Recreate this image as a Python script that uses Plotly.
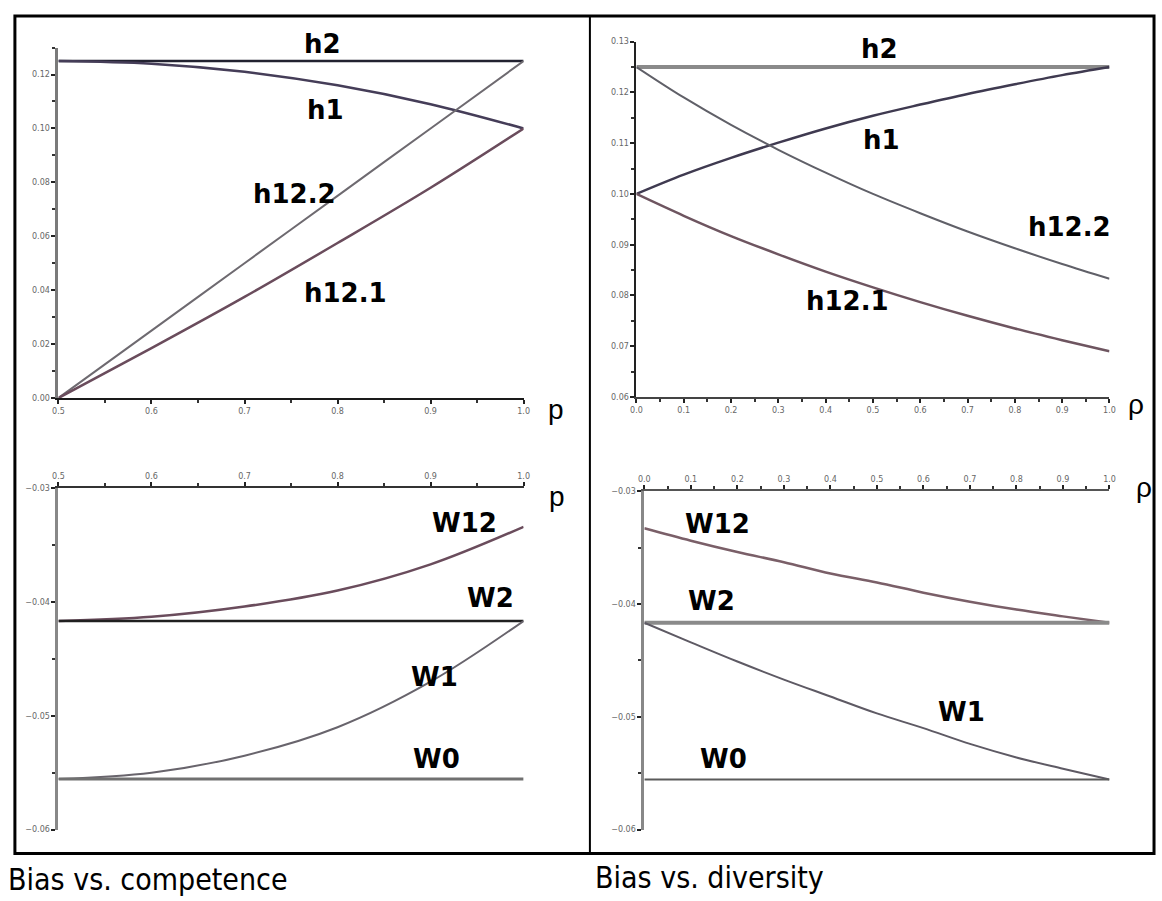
import plotly.graph_objects as go

W, H = 1162, 901

# ---------------- data ----------------
p_vals = [0.5, 0.6, 0.7, 0.8, 0.9, 1.0]
comp_h2 = [0.125, 0.125, 0.125, 0.125, 0.125, 0.125]
comp_h1 = [0.125, 0.124, 0.121, 0.116, 0.109, 0.100]
comp_h12_2 = [0.000, 0.025, 0.050, 0.075, 0.100, 0.125]
comp_h12_1 = [0.000, 0.0185, 0.0375, 0.0575, 0.078, 0.100]

comp_W12 = [-0.04167, -0.0413, -0.0404, -0.0390, -0.0367, -0.0334]
comp_W2 = [-0.04167, -0.04167, -0.04167, -0.04167, -0.04167, -0.04167]
comp_W1 = [-0.05556, -0.0550, -0.0535, -0.0510, -0.0470, -0.04167]
comp_W0 = [-0.05556, -0.05556, -0.05556, -0.05556, -0.05556, -0.05556]

rho_vals = [0.0, 0.1, 0.2, 0.3, 0.4, 0.5, 0.6, 0.7, 0.8, 0.9, 1.0]
div_h2 = [0.125] * 11
div_h1 = [0.100, 0.1038, 0.1071, 0.1101, 0.1129, 0.1154, 0.1176, 0.1197, 0.1216, 0.1234, 0.125]
div_h12_2 = [0.125, 0.1190, 0.1136, 0.1087, 0.1042, 0.1000, 0.0962, 0.0926, 0.0893, 0.0862, 0.0833]
div_h12_1 = [0.100, 0.0957, 0.0917, 0.0881, 0.0847, 0.0816, 0.0787, 0.0760, 0.0735, 0.0712, 0.0690]

div_W12 = [-0.0333, -0.0344, -0.0354, -0.0363, -0.0373, -0.0381, -0.0390, -0.0398, -0.0405, -0.0411, -0.04167]
div_W2 = [-0.04167] * 11
div_W1 = [-0.04167, -0.0434, -0.0451, -0.0467, -0.0482, -0.0497, -0.0510, -0.0524, -0.0536, -0.0546, -0.05556]
div_W0 = [-0.05556] * 11

captions = ["Bias vs. competence", "Bias vs. diversity"]


def px(x):
    return x / W


def py(y):
    return 1 - y / H


fig = go.Figure()


def add(x, y, xa, ya, color, width=2):
    fig.add_trace(go.Scatter(x=x, y=y, xaxis=xa, yaxis=ya, mode="lines",
                             line=dict(color=color, width=width, shape="spline", smoothing=1.0),
                             showlegend=False, hoverinfo="skip"))


# top-left
add(p_vals, comp_h2, "x", "y", "#222230", 2.5)
add(p_vals, comp_h1, "x", "y", "#453d58", 2.5)
add(p_vals, comp_h12_2, "x", "y", "#6e6a70", 2)
add(p_vals, comp_h12_1, "x", "y", "#6a4c5c", 2.5)
# top-right
add(rho_vals, div_h2, "x2", "y2", "#8a8a8a", 4)
add(rho_vals, div_h1, "x2", "y2", "#3f3a50", 2.5)
add(rho_vals, div_h12_2, "x2", "y2", "#606068", 2)
add(rho_vals, div_h12_1, "x2", "y2", "#6e5560", 2.5)
# bottom-left
add(p_vals, comp_W12, "x3", "y3", "#6a4c5c", 2.5)
add(p_vals, comp_W2, "x3", "y3", "#202020", 2.5)
add(p_vals, comp_W1, "x3", "y3", "#68646c", 2)
add(p_vals, comp_W0, "x3", "y3", "#707070", 3)
# bottom-right
add(rho_vals, div_W12, "x4", "y4", "#7a5f68", 2.5)
add(rho_vals, div_W2, "x4", "y4", "#8a8a8a", 4)
add(rho_vals, div_W1, "x4", "y4", "#5e5a64", 2)
add(rho_vals, div_W0, "x4", "y4", "#5a5a5a", 2)

tickfont = dict(family="DejaVu Sans", size=8, color="#666666")


def xaxis(dom, rng, anchor, side, lc, lw, dtick, minor):
    return dict(domain=dom, range=rng, anchor=anchor, side=side, showgrid=False, zeroline=False,
                showline=True, linecolor=lc, linewidth=lw, ticks="outside", ticklen=4, tickwidth=2,
                tickcolor="#222", dtick=dtick, tick0=0, tickformat=".1f", tickfont=tickfont,
                minor=dict(dtick=minor, ticks="outside", ticklen=3, tickwidth=2, tickcolor="#333"))


def yaxis(dom, rng, anchor, lc, lw, dtick, minor):
    return dict(domain=dom, range=rng, anchor=anchor, showgrid=False, zeroline=False,
                showline=True, linecolor=lc, linewidth=lw, ticks="outside", ticklen=4, tickwidth=2,
                tickcolor="#222", dtick=dtick, tick0=0, tickformat=".2f", tickfont=tickfont,
                minor=dict(dtick=minor, ticks="outside", ticklen=3, tickwidth=2, tickcolor="#333"))


fig.update_layout(
    width=W, height=H, margin=dict(l=0, r=0, t=0, b=0),
    paper_bgcolor="white", plot_bgcolor="white",
    xaxis=xaxis([px(53), px(523)], [0.5, 1.0], "y", "bottom", "#1a1a1a", 2, 0.1, 0.05),
    yaxis=yaxis([py(398), py(44)], [0.0, 0.13], "x", "#7a7a7a", 3, 0.02, 0.01),
    xaxis2=xaxis([px(637), px(1115)], [0.0, 1.0], "y2", "bottom", "#444444", 2, 0.1, 0.05),
    yaxis2=yaxis([py(397), py(38)], [0.06, 0.13], "x2", "#222222", 2, 0.01, 0.005),
    xaxis3=xaxis([px(53), px(523)], [0.5, 1.0], "y3", "top", "#333333", 2, 0.1, 0.05),
    yaxis3=yaxis([py(834), py(489)], [-0.06, -0.03], "x3", "#888888", 3, 0.01, 0.005),
    xaxis4=xaxis([px(645), px(1115)], [0.0, 1.0], "y4", "top", "#555555", 2, 0.1, 0.05),
    yaxis4=yaxis([py(834), py(492)], [-0.06, -0.03], "x4", "#888888", 3, 0.01, 0.005),
)

# frame
shapes = [
    dict(type="rect", xref="paper", yref="paper", x0=px(9), x1=px(1160), y0=py(858), y1=py(12),
         line=dict(color="black", width=3)),
    dict(type="line", xref="paper", yref="paper", x0=px(590), x1=px(590), y0=py(858), y1=py(12),
         line=dict(color="black", width=2)),
]
fig.update_layout(shapes=shapes)

labfont = dict(family="DejaVu Sans", size=26, color="black", weight="bold")
labels = [
    ("h2", 320, 40), ("h1", 323, 107), ("h12.2", 292, 192), ("h12.1", 343, 292),
    ("h2", 883, 45), ("h1", 885, 137), ("h12.2", 1075, 225), ("h12.1", 850, 300),
    ("W12", 463, 524), ("W2", 490, 600), ("W1", 433, 680), ("W0", 435, 763),
    ("W12", 719, 525), ("W2", 713, 603), ("W1", 965, 715), ("W0", 725, 763),
]
ann = []
for t, x, y in labels:
    ann.append(dict(text=t, x=px(x), y=py(y), xref="paper", yref="paper", showarrow=False,
                    font=labfont, xanchor="center", yanchor="middle"))

axfont = dict(family="Liberation Sans", size=28, color="black")
for t, x, y in [("p", 556, 410), ("p", 557, 497), ("ρ", 1142, 405), ("ρ", 1150, 488)]:
    ann.append(dict(text=t, x=px(x), y=py(y), xref="paper", yref="paper", showarrow=False,
                    font=axfont, xanchor="center", yanchor="middle"))

capfont = dict(family="DejaVu Sans Condensed, Liberation Sans Narrow, DejaVu Sans", size=30, color="black")
ann.append(dict(text=captions[0], x=px(0), y=py(884), xref="paper", yref="paper", showarrow=False,
                font=capfont, xanchor="left", yanchor="middle"))
ann.append(dict(text=captions[1], x=px(593), y=py(882), xref="paper", yref="paper", showarrow=False,
                font=capfont, xanchor="left", yanchor="middle"))
fig.update_layout(annotations=ann)

fig.write_html("out.html", config={"displayModeBar": False},
               post_script="document.body.style.margin='0';document.body.style.overflow='hidden';")
